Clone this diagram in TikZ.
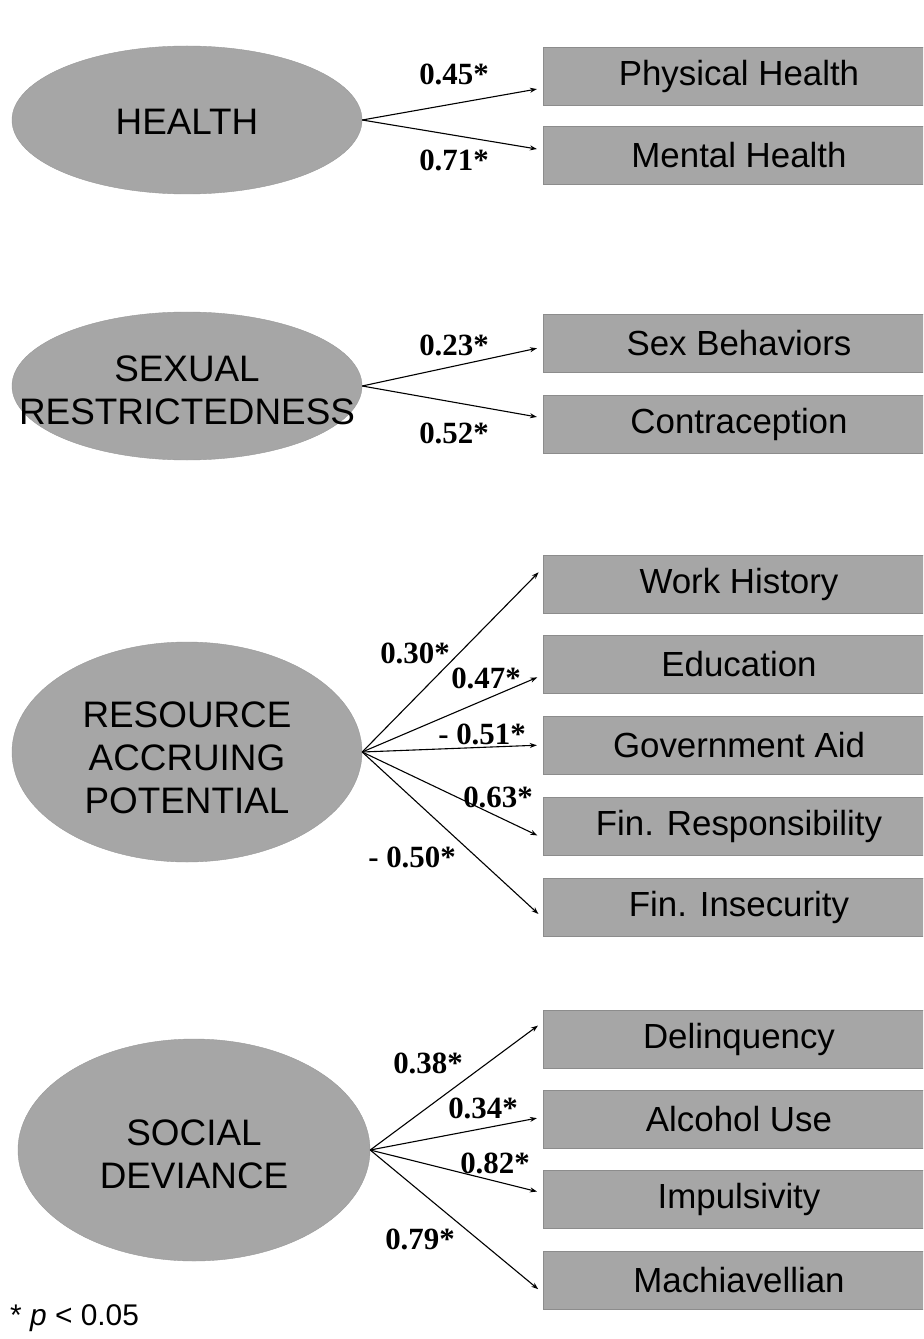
\documentclass[tikz,border=0pt]{standalone}
\usepackage{fontspec}
\setmainfont{Liberation Sans}
\newfontfamily\coeffont{Liberation Serif}
\usetikzlibrary{shapes.geometric, arrows.meta}
\definecolor{latgray}{RGB}{166,166,166}

\begin{document}
\begin{tikzpicture}[x=1bp, y=-1bp,
    latent/.style={ellipse, draw=black!40, fill=latgray, minimum width=350bp, minimum height=148bp, inner sep=0pt},
    lattext/.style={align=center, font=\fontsize{37}{43}\selectfont, inner sep=0pt},
    indicator/.style={rectangle, draw=black!45, fill=latgray, minimum width=392bp, minimum height=58bp, font=\fontsize{35}{40}\selectfont},
    loading/.style={-{Stealth[length=7bp, width=5bp]}, line width=1.1bp, shorten >=6bp},
    coeff/.style={font=\coeffont\bfseries\fontsize{31}{33}\selectfont, inner sep=0pt}]
   \clip (0,0) rectangle (923,1339);

   % latent factors
   \node[latent, label={[lattext, yshift=-2bp]center:HEALTH}] (health) at (187,120) {};
   \node[latent, label={[lattext, yshift=-4bp]center:SEXUAL\\RESTRICTEDNESS}] (sex) at (187,386) {};
   \node[latent, minimum height=220bp, label={[lattext, yshift=-6bp]center:RESOURCE\\ACCRUING\\POTENTIAL}] (rap) at (187,752) {};
   \node[latent, minimum width=352bp, minimum height=222bp, label={[lattext, yshift=-4bp]center:SOCIAL\\DEVIANCE}] (soc) at (194,1150) {};

   % indicators
   \node[indicator] (phys)   at (739,76)   {Physical Health};
   \node[indicator] (ment)   at (739,155)  {Mental Health};
   \node[indicator] (sexb)   at (739,343)  {Sex Behaviors};
   \node[indicator] (contra) at (739,424)  {Contraception};
   \node[indicator] (work)   at (739,584)  {Work History};
   \node[indicator] (edu)    at (739,664)  {Education};
   \node[indicator] (gov)    at (739,745)  {Government Aid};
   \node[indicator] (finr)   at (739,826)  {Fin. Responsibility};
   \node[indicator] (fini)   at (739,907)  {Fin. Insecurity};
   \node[indicator] (delin)  at (739,1039) {Delinquency};
   \node[indicator] (alco)   at (739,1119) {Alcohol Use};
   \node[indicator] (impu)   at (739,1199) {Impulsivity};
   \node[indicator] (mach)   at (739,1280) {Machiavellian};

   % loadings
   \draw[loading] (health.east) -- ([yshift=-12bp]phys.west);
   \draw[loading] (health.east) -- ([yshift=5bp]ment.west);
   \draw[loading] (sex.east) -- ([yshift=-4bp]sexb.west);
   \draw[loading] (sex.east) -- ([yshift=6bp]contra.west);
   \draw[loading] (rap.east) -- ([yshift=16bp]work.west);
   \draw[loading] (rap.east) -- ([yshift=-11bp]edu.west);
   \draw[loading] (rap.east) -- (gov.west);
   \draw[loading] (rap.east) -- ([yshift=-12bp]finr.west);
   \draw[loading] (rap.east) -- ([yshift=-11bp]fini.west);
   \draw[loading] (soc.east) -- ([yshift=17bp]delin.west);
   \draw[loading] (soc.east) -- ([yshift=2bp]alco.west);
   \draw[loading] (soc.east) -- ([yshift=6bp]impu.west);
   \draw[loading] (soc.east) -- ([yshift=-13bp]mach.west);

   \node[coeff] (c-phys)   at (454,74)   {0.45*};
   \node[coeff] (c-ment)   at (454,160)  {0.71*};
   \node[coeff] (c-sexb)   at (454,345)  {0.23*};
   \node[coeff] (c-contra) at (454,433)  {0.52*};
   \node[coeff] (c-work)   at (415,653)  {0.30*};
   \node[coeff] (c-edu)    at (486,678)  {0.47*};
   \node[coeff] (c-gov)    at (482,734)  {- 0.51*};
   \node[coeff] (c-finr)   at (498,797)  {0.63*};
   \node[coeff] (c-fini)   at (412,857)  {- 0.50*};
   \node[coeff] (c-delin)  at (428,1063) {0.38*};
   \node[coeff] (c-alco)   at (483,1108) {0.34*};
   \node[coeff] (c-impu)   at (495,1163) {0.82*};
   \node[coeff] (c-mach)   at (420,1239) {0.79*};

   \node[anchor=west, inner sep=0pt, font=\fontsize{30}{34}\selectfont] (note) at (10,1318) {* \textit{p} < 0.05};
\end{tikzpicture}
\end{document}
